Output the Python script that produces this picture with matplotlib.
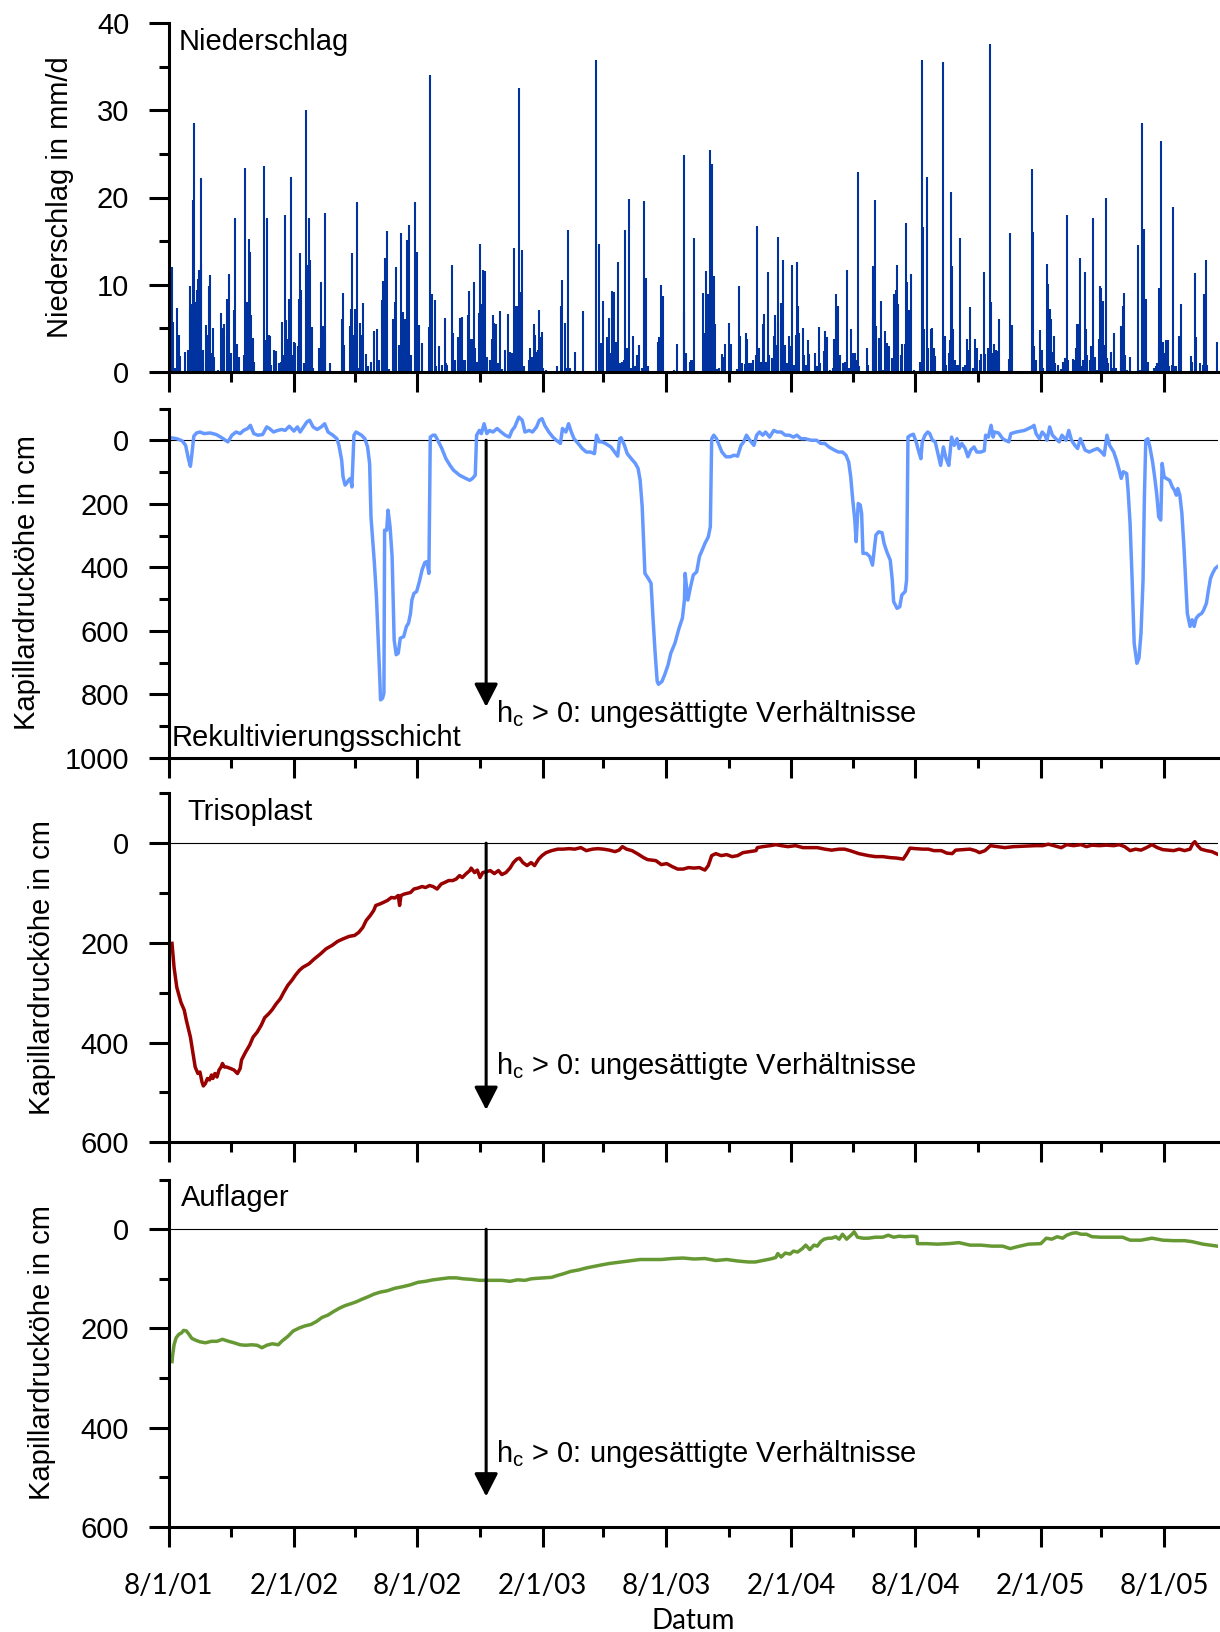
"""Niederschlag und Kapillardruckhoehen 2001-2005 als vier gestapelte Panels"""
import numpy as np
import matplotlib
matplotlib.use("Agg")
import matplotlib.pyplot as plt
import matplotlib.dates as mdates
from matplotlib.ticker import MultipleLocator, FuncFormatter

plt.rcParams["font.family"] = ["Liberation Sans", "DejaVu Sans"]
plt.rcParams["mathtext.fontset"] = "custom"
plt.rcParams["mathtext.rm"] = "Liberation Sans"
plt.rcParams["mathtext.it"] = "Liberation Sans"

START = np.datetime64("2001-08-01")
END_DAY = 1540  # ca. 20.10.2005

# Niederschlag: Tage seit 1.8.2001, Tageswerte in mm/d
rain_day = [5, 7, 10, 13, 15, 17, 24, 28, 31, 32, 34, 36, 37, 39, 41, 43, 45, 47, 48, 50,
            51, 55, 57, 59, 61, 63, 65, 67, 72, 77, 79, 82, 85, 86, 89, 91, 96, 97, 101, 103,
            111, 112, 114, 116, 118, 119, 121, 124, 126, 140, 142, 145, 147, 149, 151, 155, 158, 162, 165, 166,
            169, 171, 173, 175, 177, 179, 182, 184, 186, 190, 191, 193, 195, 198, 202, 204, 206, 208, 210, 212,
            220, 222, 224, 226, 229, 230, 237, 254, 256, 258, 266, 268, 269, 271, 274, 276, 278, 281, 283, 286,
            290, 293, 297, 302, 306, 309, 313, 314, 317, 319, 321, 324, 329, 332, 334, 338, 341, 344, 347, 350,
            353, 355, 362, 364, 367, 372, 382, 384, 387, 391, 393, 397, 401, 405, 407, 409, 416, 418, 421, 425,
            428, 430, 433, 435, 439, 441, 443, 445, 448, 450, 453, 456, 457, 460, 462, 464, 467, 471, 475, 476,
            478, 480, 484, 486, 489, 494, 498, 501, 504, 507, 510, 512, 514, 516, 518, 521, 529, 531, 534, 536,
            538, 540, 542, 544, 546, 548, 550, 554, 570, 576, 578, 581, 583, 586, 589, 596, 608, 627, 632, 635,
            637, 638, 643, 646, 648, 651, 654, 657, 660, 663, 665, 668, 670, 673, 675, 678, 681, 685, 687, 690,
            694, 697, 700, 704, 718, 720, 723, 725, 742, 746, 756, 757, 759, 765, 767, 769, 771, 784, 786, 789,
            791, 794, 796, 798, 800, 802, 805, 808, 812, 815, 817, 822, 825, 834, 837, 839, 842, 846, 847, 849,
            852, 854, 857, 862, 864, 867, 870, 873, 874, 876, 879, 881, 886, 888, 890, 892, 894, 895, 898, 899,
            901, 904, 907, 910, 912, 915, 918, 920, 922, 924, 925, 931, 933, 936, 939, 940, 948, 952, 955, 956,
            962, 964, 966, 971, 975, 977, 980, 982, 983, 985, 990, 993, 995, 998, 1001, 1005, 1007, 1009, 1011, 1013,
            1025, 1027, 1033, 1034, 1036, 1038, 1043, 1046, 1049, 1052, 1054, 1057, 1061, 1065, 1067, 1069, 1071, 1075, 1077, 1080,
            1082, 1084, 1086, 1087, 1090, 1094, 1103, 1105, 1107, 1109, 1113, 1115, 1119, 1121, 1123, 1125, 1137, 1139, 1141, 1145,
            1146, 1148, 1150, 1151, 1154, 1156, 1159, 1161, 1166, 1169, 1171, 1174, 1176, 1180, 1184, 1186, 1190, 1192, 1196, 1198,
            1202, 1204, 1205, 1207, 1209, 1212, 1214, 1216, 1218, 1233, 1235, 1237, 1267, 1268, 1270, 1273, 1279, 1281, 1283, 1289,
            1291, 1293, 1295, 1297, 1299, 1301, 1305, 1310, 1312, 1315, 1316, 1318, 1320, 1327, 1329, 1331, 1333, 1335, 1337, 1340,
            1342, 1345, 1346, 1348, 1352, 1354, 1356, 1357, 1359, 1363, 1365, 1367, 1368, 1371, 1373, 1375, 1377, 1379, 1383, 1386,
            1388, 1391, 1397, 1398, 1400, 1402, 1404, 1406, 1411, 1423, 1425, 1428, 1430, 1432, 1435, 1437, 1446, 1449, 1451, 1453,
            1454, 1455, 1457, 1459, 1462, 1463, 1466, 1468, 1472, 1474, 1476, 1479, 1483, 1485, 1500, 1502, 1506, 1508, 1514, 1518,
            1520, 1522, 1524, 1538]
rain_mm = [12.0, 5.7, 0.4, 7.3, 4.2, 1.8, 2.3, 2.5, 7.2, 9.8, 7.8, 19.7, 28.5, 8.0, 9.4, 10.6, 11.7, 12.2, 22.2, 2.5,
           1.1, 5.4, 4.2, 9.8, 11.1, 2.1, 5.0, 1.7, 0.2, 6.7, 5.0, 5.5, 4.0, 8.3, 11.2, 2.1, 7.1, 17.7, 3.2, 1.7,
           1.9, 23.4, 8.0, 8.0, 15.2, 13.8, 6.5, 3.9, 1.1, 23.6, 3.6, 17.7, 4.2, 4.1, 0.8, 2.5, 2.4, 1.0, 1.1, 5.7,
           1.9, 18.0, 5.9, 3.8, 8.3, 22.3, 1.9, 3.4, 3.3, 2.9, 8.3, 13.6, 9.4, 1.0, 30.1, 12.2, 17.6, 12.8, 5.1, 0.4,
           2.7, 2.7, 10.3, 5.2, 18.2, 4.4, 1.0, 6.1, 9.0, 3.1, 5.2, 7.2, 13.6, 4.2, 7.2, 19.5, 0.4, 5.6, 4.2, 7.9,
           2.0, 0.6, 1.1, 4.7, 4.9, 1.3, 8.2, 10.4, 13.1, 1.3, 16.1, 0.3, 6.1, 8.0, 12.0, 3.1, 15.9, 6.9, 6.1, 15.1,
           16.8, 1.9, 19.5, 13.8, 5.4, 3.3, 5.1, 34.1, 8.9, 8.2, 0.6, 2.9, 0.8, 6.2, 1.0, 0.8, 12.2, 4.5, 1.3, 4.0,
           6.2, 6.3, 1.3, 1.3, 6.5, 9.3, 3.8, 3.7, 10.3, 2.7, 1.1, 6.7, 14.7, 7.8, 11.7, 11.6, 1.7, 1.3, 3.7, 6.5,
           5.6, 5.5, 1.0, 7.0, 0.3, 2.5, 6.6, 2.3, 2.2, 14.2, 7.5, 7.6, 32.6, 9.2, 14.0, 0.6, 1.3, 2.7, 1.7, 5.5,
           4.2, 2.3, 2.5, 7.1, 4.0, 4.6, 0.4, 0.2, 0.6, 7.5, 10.5, 5.6, 0.4, 16.3, 0.4, 2.3, 7.0, 35.8, 14.7, 3.3,
           8.1, 0.2, 4.0, 6.2, 2.1, 9.3, 9.2, 3.4, 12.6, 1.0, 1.1, 1.3, 16.3, 2.7, 19.8, 0.4, 4.1, 0.6, 1.9, 3.1,
           0.4, 19.6, 10.8, 0.6, 3.4, 4.0, 9.9, 8.7, 0.2, 3.2, 6.8, 24.9, 2.1, 1.1, 1.3, 1.3, 15.3, 9.0, 4.4, 11.6,
           8.9, 25.5, 7.4, 23.8, 11.0, 5.5, 0.3, 0.4, 2.0, 1.7, 3.2, 5.6, 3.2, 0.3, 9.8, 4.1, 1.0, 0.9, 4.5, 3.7,
           1.0, 1.0, 1.3, 1.9, 16.7, 2.7, 1.1, 5.5, 6.6, 1.1, 11.4, 1.9, 1.6, 4.1, 6.5, 3.1, 5.6, 15.5, 7.9, 2.9,
           12.8, 3.1, 1.0, 4.1, 2.9, 12.2, 0.8, 4.2, 12.6, 7.5, 4.4, 5.0, 1.9, 0.8, 3.6, 2.0, 2.1, 0.6, 5.1, 1.0,
           2.4, 4.7, 4.0, 0.2, 0.4, 3.8, 8.9, 7.5, 1.8, 1.9, 1.0, 1.1, 11.7, 0.4, 4.9, 2.1, 2.2, 1.3, 22.9, 0.6,
           2.7, 0.8, 6.3, 12.1, 19.7, 5.2, 3.9, 8.1, 0.2, 4.7, 3.3, 2.9, 1.6, 8.9, 9.4, 12.2, 7.8, 1.9, 3.2, 3.2,
           17.1, 10.3, 7.1, 7.1, 11.2, 0.2, 1.1, 35.8, 16.6, 4.9, 22.4, 2.7, 4.9, 5.0, 2.7, 1.8, 35.6, 4.1, 0.8, 2.1,
           3.6, 20.6, 12.1, 4.9, 1.3, 0.8, 0.8, 15.3, 0.5, 0.8, 3.8, 2.5, 7.4, 0.4, 3.8, 2.7, 1.3, 2.0, 11.4, 2.0,
           2.7, 2.7, 37.6, 8.0, 2.1, 3.2, 2.5, 2.4, 6.1, 1.5, 15.9, 5.4, 23.3, 16.0, 2.9, 1.3, 4.8, 2.5, 0.4, 12.4,
           10.1, 7.2, 6.1, 2.3, 4.1, 1.0, 0.8, 0.3, 1.1, 1.6, 1.3, 18.0, 1.4, 1.5, 1.3, 2.7, 5.5, 5.5, 13.1, 0.6,
           1.4, 11.4, 4.9, 1.9, 1.3, 2.9, 2.9, 17.6, 1.7, 0.2, 3.7, 9.8, 9.6, 8.1, 3.1, 19.9, 1.6, 1.0, 2.3, 0.4,
           4.5, 0.4, 1.1, 5.2, 7.5, 9.0, 1.9, 0.2, 1.7, 14.6, 0.2, 28.5, 11.6, 16.4, 8.4, 1.1, 0.4, 0.6, 1.0, 2.7,
           9.6, 6.9, 26.5, 3.4, 2.2, 3.6, 3.6, 0.6, 0.8, 18.9, 0.6, 0.7, 4.1, 7.8, 1.8, 1.1, 11.3, 4.0, 1.0, 0.8,
           8.9, 12.8, 0.8, 3.4]

# Kapillardruckhoehe Rekultivierungsschicht (cm)
rek_day = [3, 12, 20, 25, 29, 32, 34, 37, 41, 46, 52, 61, 70, 78, 87, 93, 99, 105, 110, 116,
           120, 125, 131, 138, 144, 148, 154, 160, 166, 171, 177, 184, 189, 193, 198, 203, 207, 212, 218, 224,
           229, 234, 241, 247, 250, 254, 256, 259, 261, 264, 267, 269, 272, 275, 279, 283, 288, 292, 295, 297,
           302, 305, 308, 310, 311, 314, 316, 317, 320, 322, 325, 328, 331, 334, 337, 340, 345, 349, 352, 355,
           357, 360, 364, 368, 372, 376, 379, 382, 384, 388, 391, 395, 401, 407, 413, 418, 427, 436, 442, 446,
           450, 452, 456, 459, 463, 467, 471, 476, 482, 488, 494, 500, 504, 508, 511, 514, 519, 523, 529, 534,
           540, 544, 548, 552, 558, 564, 569, 575, 578, 583, 587, 591, 595, 601, 607, 613, 619, 625, 628, 632,
           636, 641, 649, 659, 662, 664, 669, 673, 679, 685, 689, 692, 695, 697, 699, 704, 708, 711, 714, 717,
           719, 724, 728, 733, 737, 743, 749, 754, 757, 758, 762, 766, 770, 775, 779, 783, 787, 792, 795, 797,
           800, 804, 808, 812, 818, 824, 830, 835, 840, 844, 848, 853, 859, 863, 867, 872, 876, 882, 888, 893,
           899, 905, 911, 917, 922, 928, 934, 943, 951, 957, 963, 969, 977, 983, 989, 994, 998, 1001, 1004, 1007,
           1009, 1012, 1015, 1017, 1019, 1024, 1029, 1033, 1035, 1038, 1042, 1047, 1050, 1054, 1059, 1062, 1064, 1069, 1073, 1076,
           1081, 1083, 1085, 1089, 1093, 1097, 1101, 1104, 1106, 1110, 1114, 1117, 1121, 1125, 1129, 1133, 1137, 1141, 1145, 1149,
           1153, 1157, 1160, 1164, 1169, 1173, 1177, 1182, 1186, 1192, 1197, 1199, 1203, 1207, 1210, 1212, 1218, 1224, 1228, 1233,
           1236, 1244, 1256, 1267, 1270, 1273, 1278, 1282, 1286, 1289, 1293, 1297, 1302, 1307, 1311, 1317, 1321, 1325, 1330, 1334,
           1338, 1341, 1345, 1351, 1357, 1363, 1369, 1373, 1377, 1381, 1387, 1391, 1395, 1398, 1401, 1406, 1408, 1411, 1414, 1417,
           1421, 1424, 1427, 1430, 1432, 1434, 1437, 1440, 1444, 1447, 1450, 1453, 1456, 1458, 1461, 1464, 1469, 1473, 1476, 1479,
           1481, 1484, 1487, 1490, 1492, 1495, 1499, 1502, 1505, 1508, 1512, 1516, 1519, 1523, 1526, 1529, 1532, 1536, 1539]
rek_hc = [-8, -5, 2, 16, 58, 82, 47, -13, -23, -26, -21, -23, -18, -8, 5, -16, -26, -21, -31, -37,
          -47, -21, -16, -18, -42, -37, -26, -31, -34, -31, -44, -29, -42, -26, -42, -58, -63, -42, -34, -42,
          -52, -26, -16, -5, 16, 63, 115, 141, 136, 126, 120, 147, -16, -26, -21, -16, -5, 21, 73, 241,
          387, 492, 649, 754, 817, 812, 796, 283, 283, 220, 272, 366, 628, 675, 670, 623, 618, 586, 576, 545,
          503, 482, 476, 445, 408, 385, 382, 419, -10, -16, -16, 0, 26, 58, 79, 94, 110, 120, 126, 120,
          110, -16, -31, -21, -52, -21, -31, -26, -37, -26, -16, -10, -31, -42, -58, -73, -63, -26, -31, -26,
          -42, -63, -68, -47, -26, -10, 0, 10, -37, -26, -52, -26, -5, 10, 26, 37, 37, 42, -16, 5,
          5, 10, 21, 50, -5, -8, 16, 42, 58, 73, 89, 126, 209, 314, 419, 435, 450, 565, 670, 759,
          768, 759, 738, 707, 670, 639, 592, 560, 503, 419, 503, 461, 424, 414, 366, 346, 325, 304, 272, -5,
          -16, -5, 16, 37, 52, 52, 47, 50, 16, 5, -16, 0, 16, -16, -26, -16, -26, -10, -31, -26,
          -26, -16, -16, -10, -16, -5, -5, 0, 0, 10, 10, 21, 31, 37, 37, 47, 68, 115, 188, 251,
          319, 199, 204, 230, 356, 356, 366, 393, 356, 298, 288, 291, 325, 351, 377, 440, 508, 529, 524, 487,
          476, 440, -10, -16, -19, 5, 37, 58, 5, -16, -26, -21, 0, 5, 42, 79, 21, 58, 79, -10,
          16, -5, 26, 10, 26, 52, 31, 21, 37, 37, 33, -16, -10, -47, -10, -26, -23, -5, 0, 5,
          -21, -26, -31, -42, -47, -21, -5, -26, -16, 0, -42, -16, -5, 5, -16, 0, -31, 0, 16, 26,
          -5, 10, 31, 37, 31, 26, 37, 47, -16, 16, 37, 63, 94, 120, 99, 105, 157, 262, 440, 639,
          702, 686, 607, 440, 178, 0, -5, 21, 68, 115, 168, 241, 251, 73, 115, 120, 126, 147, 157, 173,
          152, 173, 230, 335, 419, 545, 586, 565, 586, 560, 550, 545, 534, 513, 471, 435, 419, 403, 398]

# Kapillardruckhoehe Trisoplast (cm)
tri_day = [5, 8, 12, 18, 23, 26, 29, 32, 35, 39, 43, 46, 49, 51, 54, 57, 60, 63, 65, 68,
           71, 74, 77, 79, 82, 85, 91, 96, 101, 105, 107, 113, 119, 124, 130, 136, 141, 147, 152, 158,
           164, 169, 175, 181, 186, 192, 197, 206, 214, 223, 231, 240, 248, 256, 265, 273, 279, 285, 290, 296,
           301, 304, 310, 315, 321, 327, 332, 337, 339, 341, 346, 355, 360, 366, 372, 377, 383, 388, 394, 400,
           405, 411, 417, 422, 427, 431, 436, 442, 444, 449, 453, 457, 461, 467, 472, 478, 484, 489, 495, 501,
           506, 511, 515, 520, 526, 532, 537, 543, 548, 554, 562, 571, 579, 588, 596, 605, 613, 622, 630, 638,
           647, 655, 661, 666, 672, 680, 689, 697, 703, 715, 723, 731, 739, 747, 755, 763, 771, 779, 787, 792,
           797, 803, 811, 819, 827, 835, 843, 853, 862, 864, 872, 883, 891, 899, 909, 920, 931, 941, 952, 963,
           973, 984, 992, 1000, 1013, 1027, 1037, 1048, 1059, 1069, 1078, 1083, 1088, 1096, 1107, 1115, 1123, 1134, 1142, 1150,
           1155, 1166, 1176, 1184, 1190, 1198, 1206, 1216, 1227, 1240, 1256, 1272, 1283, 1291, 1299, 1310, 1318, 1328, 1339, 1347,
           1355, 1366, 1376, 1387, 1395, 1403, 1411, 1419, 1427, 1435, 1443, 1451, 1459, 1467, 1475, 1483, 1491, 1499, 1503, 1506,
           1510, 1515, 1523, 1531, 1539]
tri_hc = [201, 249, 289, 319, 335, 355, 372, 389, 415, 449, 462, 459, 479, 487, 482, 472, 475, 465, 472, 462,
          469, 455, 449, 442, 449, 449, 452, 455, 462, 452, 435, 419, 405, 389, 379, 365, 350, 342, 334, 322,
          312, 299, 285, 275, 265, 255, 249, 242, 232, 222, 212, 205, 197, 192, 187, 185, 179, 169, 155, 145,
          135, 125, 122, 119, 115, 109, 110, 105, 125, 105, 102, 99, 92, 90, 87, 89, 85, 87, 92, 82,
          79, 75, 75, 72, 65, 69, 62, 55, 50, 59, 54, 69, 59, 57, 55, 61, 55, 63, 59, 50,
          39, 32, 30, 39, 45, 39, 45, 32, 25, 19, 15, 12, 12, 11, 12, 9, 15, 12, 11, 12,
          14, 17, 14, 7, 12, 15, 22, 29, 33, 35, 43, 41, 47, 52, 52, 49, 50, 49, 54, 45,
          25, 21, 25, 23, 27, 25, 19, 17, 15, 9, 7, 5, 3, 5, 7, 5, 9, 9, 9, 12,
          14, 12, 12, 15, 21, 25, 27, 27, 29, 30, 32, 22, 10, 11, 12, 12, 15, 15, 20, 21,
          14, 13, 12, 15, 19, 15, 5, 7, 9, 7, 6, 5, 5, 2, 5, 9, 3, 5, 3, 7,
          4, 5, 4, 5, 3, 7, 15, 12, 14, 9, 3, 9, 13, 14, 15, 12, 15, 12, 1, -3,
          5, 12, 15, 17, 22]

# Kapillardruckhoehe Auflager (cm)
auf_day = [5, 6, 8, 11, 15, 19, 22, 26, 30, 34, 40, 46, 54, 63, 71, 79, 88, 96, 105, 113,
           122, 130, 137, 144, 152, 161, 166, 175, 183, 192, 200, 209, 217, 225, 234, 242, 251, 259, 268, 276,
           284, 293, 301, 310, 321, 332, 343, 355, 366, 377, 388, 399, 411, 422, 433, 444, 456, 467, 478, 489,
           501, 512, 523, 532, 540, 551, 562, 571, 579, 590, 602, 613, 624, 635, 647, 658, 669, 680, 692, 703,
           723, 739, 755, 771, 787, 803, 819, 835, 851, 861, 872, 883, 891, 894, 899, 905, 912, 917, 923, 930,
           935, 941, 947, 952, 957, 962, 968, 973, 979, 984, 989, 995, 1003, 1006, 1011, 1019, 1027, 1037, 1048, 1056,
           1064, 1072, 1080, 1091, 1098, 1099, 1112, 1128, 1144, 1160, 1176, 1192, 1208, 1224, 1235, 1246, 1262, 1280, 1288, 1296,
           1304, 1312, 1318, 1326, 1332, 1339, 1347, 1355, 1368, 1384, 1400, 1411, 1427, 1443, 1459, 1475, 1491, 1502, 1518, 1539]
auf_hc = [267, 253, 233, 219, 212, 209, 204, 205, 212, 220, 224, 227, 229, 226, 226, 222, 226, 229, 233, 234,
          233, 234, 239, 234, 231, 233, 226, 216, 205, 199, 195, 192, 186, 178, 173, 166, 159, 154, 150, 146,
          141, 136, 131, 127, 124, 119, 116, 112, 107, 105, 102, 100, 98, 98, 100, 101, 103, 103, 103, 103,
          105, 102, 103, 100, 99, 98, 97, 93, 90, 85, 82, 78, 75, 72, 69, 67, 65, 63, 61, 61,
          61, 59, 58, 60, 59, 63, 61, 64, 66, 66, 63, 60, 57, 49, 56, 48, 50, 44, 46, 39,
          32, 41, 32, 34, 25, 20, 18, 18, 15, 20, 10, 20, 10, 5, 16, 18, 18, 16, 16, 12,
          16, 14, 15, 14, 15, 29, 29, 30, 29, 27, 32, 32, 34, 34, 39, 35, 30, 29, 18, 20,
          15, 18, 12, 8, 7, 10, 10, 15, 16, 16, 16, 22, 22, 18, 22, 23, 23, 25, 30, 34]

# Pfeile "h_c > 0" (Tag, Pfeilspitze, Textgrundlinie je Panel)
arrow_day = 466
text_day = 481
arrow_tip = [839, 535, 539]
text_base = [886, 463, 469]

W, H = 1220, 1632
LEFT, RIGHT = 168.6, 1218.0


def to_dates(days):
    return START + np.asarray(days).astype("timedelta64[D]")


def rect(top, bottom):
    return [LEFT / W, 1 - bottom / H, (RIGHT - LEFT) / W, (bottom - top) / H]


def style(ax):
    for s in ("top", "right"):
        ax.spines[s].set_visible(False)
    for s in ("left", "bottom"):
        ax.spines[s].set_linewidth(2.2)
    ax.tick_params(which="major", length=14.4, width=2.2, labelsize=21, pad=14)
    ax.tick_params(which="minor", length=7.2, width=2.2)
    ax.xaxis.set_major_locator(mdates.MonthLocator(bymonth=(2, 8)))
    ax.xaxis.set_minor_locator(mdates.MonthLocator(bymonth=(5, 11)))
    ax.set_xlim(START, START + np.timedelta64(END_DAY, "D"))


fig = plt.figure(figsize=(W / 100, H / 100), dpi=100)
ax1 = fig.add_axes(rect(23.3, 371.7))
ax2 = fig.add_axes(rect(408.5, 758.0))
ax3 = fig.add_axes(rect(793.3, 1142.3))
ax4 = fig.add_axes(rect(1179.7, 1526.7))

# Panel 1: Niederschlag
ax1.vlines(to_dates(rain_day), 0, rain_mm, color="#0033a0", lw=1.5)
ax1.set_ylim(0, 40)
ax1.yaxis.set_major_locator(MultipleLocator(10))
ax1.yaxis.set_minor_locator(MultipleLocator(5))
ax1.text(0.0099, 0.9475, "Niederschlag", transform=ax1.transAxes, fontsize=21, va="center")

# Panels 2-4: Kapillardruckhoehen
series = [
    (ax2, rek_day, rek_hc, "#6699ff", 1000, "Rekultivierungsschicht", (0.003, 0.057)),
    (ax3, tri_day, tri_hc, "#990000", 600, "Trisoplast", (0.0179, 0.9464)),
    (ax4, auf_day, auf_hc, "#669933", 600, "Auflager", (0.0118, 0.947)),
]
for i, (ax, days, vals, col, ymax, name, pos) in enumerate(series):
    ax.axhline(0, color="black", lw=0.8, zorder=1)
    ax.plot(to_dates(days), vals, color=col, lw=2.5, zorder=2)
    ax.set_ylim(ymax, -100)
    ax.yaxis.set_major_locator(MultipleLocator(200))
    ax.yaxis.set_minor_locator(MultipleLocator(100))
    ax.text(pos[0], pos[1], name, transform=ax.transAxes, fontsize=21, va="center")
    xa = START + np.timedelta64(arrow_day, "D")
    ax.annotate("", xy=(xa, arrow_tip[i]), xytext=(xa, 0),
                arrowprops=dict(arrowstyle="-|>,head_length=0.7,head_width=0.36",
                                lw=2.2, color="black", shrinkA=0, shrinkB=0,
                                mutation_scale=20))
    ax.text(START + np.timedelta64(text_day, "D"), text_base[i],
            r"h$_\mathrm{c}$ > 0: ungesättigte Verhältnisse", fontsize=21, va="baseline")

for ax in (ax1, ax2, ax3, ax4):
    style(ax)
for ax in (ax1, ax2, ax3):
    ax.tick_params(axis="x", labelbottom=False)

ax4.xaxis.set_major_formatter(FuncFormatter(
    lambda x, pos: "{0.month}/{0.day}/{0:%y}".format(mdates.num2date(x))))
ax4.tick_params(axis="x", pad=19, labelsize=20)
for lab in ax4.get_xticklabels():
    lab.set_fontfamily("Lato")

fig.text(693 / W, 1 - 1621 / H, "Datum", fontsize=20, family="Lato", ha="center", va="center")
ylabels = [("Niederschlag in mm/d", 60, 197.5), ("Kapillardrucköhe in cm", 27, 583),
           ("Kapillardrucköhe in cm", 42, 968), ("Kapillardrucköhe in cm", 42, 1353)]
for txt, x, y in ylabels:
    fig.text(x / W, 1 - y / H, txt, fontsize=21, rotation=90, ha="center", va="center")

fig.savefig("out.png", dpi=100)
